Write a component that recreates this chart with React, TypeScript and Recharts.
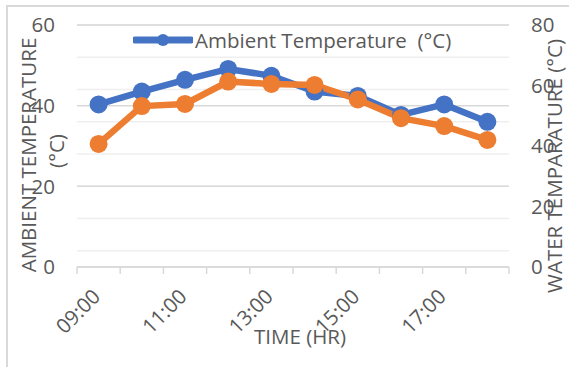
import React from 'react';
import { LineChart, Line, XAxis, YAxis, CartesianGrid, Legend } from 'recharts';

const CATEGORIES = ['09:00', '10:00', '11:00', '12:00', '13:00', '14:00', '15:00', '16:00', '17:00', '18:00'];
const AMBIENT = [40.3, 43.5, 46.4, 49.1, 47.4, 43.5, 42.4, 37.7, 40.3, 36.0];
const WATER = [40.7, 53.2, 53.9, 61.3, 60.5, 60.2, 55.4, 49.2, 46.6, 42.0];
const LEFT_TICKS = [0, 20, 40, 60];
const RIGHT_TICKS = [0, 20, 40, 60, 80];
const MINOR_GRID = [0, 4, 8, 12, 16, 20, 24, 28, 32, 36, 40, 44, 48, 52, 56, 60];
const MAJOR_GRID = [0, 20, 40, 60];
const SERIES_NAMES = { ambient: 'Ambient Temperature  (°C)', water: 'Water Temperature (°C)' };
const TITLES = {
  x: 'TIME (HR)',
  left1: 'AMBIENT TEMPERATURE',
  left2: '(°C)',
  right: 'WATER TEMPARATURE (°C)',
};

const data = CATEGORIES.map((c, i) => ({ time: c, ambient: AMBIENT[i], water: WATER[i] }));

const FONT = '"Open Sans", sans-serif';
const FS = 20.5;
const TEXT = '#595959';
const GRID_MAJOR = '#d9d9d9';
const GRID_MINOR = '#efefef';
const BLUE = '#4472C4';
const ORANGE = '#ED7D31';

const XTick = (props: any) => {
  const { x, y, payload, index } = props;
  const off = payload && payload.offset != null ? payload.offset : 0;
  const last = index === CATEGORIES.length - 1;
  const tx = x + 3;
  const ty = y + 31;
  return (
    <g>
      <line x1={x - off} x2={x - off} y1={y} y2={y + 7} stroke={GRID_MAJOR} strokeWidth={1.5} />
      {last && <line x1={x + off} x2={x + off} y1={y} y2={y + 7} stroke={GRID_MAJOR} strokeWidth={1.5} />}
      {index % 2 === 0 && (
        <text
          x={tx}
          y={ty}
          transform={`rotate(-45, ${tx}, ${ty})`}
          textAnchor="end"
          fill={TEXT}
          fontSize={FS}
          fontFamily={FONT}
        >
          {payload.value}
        </text>
      )}
    </g>
  );
};

const LeftTitle = (props: any) => {
  const vb = props.viewBox || { x: 0, y: 25, width: 77, height: 242 };
  const cy = vb.y + vb.height / 2 + 9;
  return (
    <g fill={TEXT} fontSize={FS} fontFamily={FONT}>
      <text x={27.5} y={cy} transform={`rotate(-90, 27.5, ${cy})`} textAnchor="middle" dominantBaseline="central">
        {TITLES.left1}
      </text>
      <text x={56} y={cy - 4} transform={`rotate(-90, 56, ${cy - 4})`} textAnchor="middle" dominantBaseline="central">
        {TITLES.left2}
      </text>
    </g>
  );
};

const RightTitle = (props: any) => {
  const vb = props.viewBox || { x: 509, y: 25, width: 60, height: 242 };
  const cx = 554;
  const cy = vb.y + vb.height / 2 + 20;
  return (
    <text
      x={cx}
      y={cy}
      transform={`rotate(-90, ${cx}, ${cy})`}
      textAnchor="middle"
      dominantBaseline="central"
      fill={TEXT}
      fontSize={FS}
      fontFamily={FONT}
    >
      {TITLES.right}
    </text>
  );
};

const XTitle = (props: any) => {
  const vb = props.viewBox || { x: 77, y: 267, width: 432, height: 100 };
  const cx = vb.x + vb.width / 2 + 7;
  return (
    <text x={cx} y={vb.y + 69} textAnchor="middle" dominantBaseline="central" fill={TEXT} fontSize={FS} fontFamily={FONT}>
      {TITLES.x}
    </text>
  );
};

const renderLegend = (props: any) => {
  const payload = (props.payload || []).filter((p: any) => p.dataKey === 'ambient');
  return (
    <div style={{ height: 0, overflow: 'visible' }}>
      {payload.map((p: any) => (
        <div key={p.dataKey} style={{ display: 'flex', alignItems: 'center', whiteSpace: 'nowrap' }}>
          <svg width={60} height={16} style={{ display: 'block' }}>
            <line x1={2} x2={58} y1={8} y2={8} stroke={p.color} strokeWidth={7} strokeLinecap="round" />
            <circle cx={30} cy={8} r={6} fill={p.color} />
          </svg>
          <span style={{ color: TEXT, fontSize: FS, fontFamily: FONT, marginLeft: 2, whiteSpace: 'pre', lineHeight: '16px' }}>{p.value}</span>
        </div>
      ))}
    </div>
  );
};

export default function App() {
  return (
    <div style={{ position: 'absolute', left: 0, top: 0, width: 569, height: 367, background: '#fff', overflow: 'hidden' }}>
      <div
        style={{
          position: 'absolute',
          left: 6,
          top: 5,
          width: 600,
          height: 360,
          borderTop: `2px solid ${GRID_MAJOR}`,
          borderLeft: `2px solid ${GRID_MAJOR}`,
        }}
      />
      <LineChart width={569} height={367} data={data} margin={{ top: 25, right: 0, bottom: 0, left: 0 }}>
        <CartesianGrid yAxisId="left" vertical={false} horizontalValues={MINOR_GRID} stroke={GRID_MINOR} strokeWidth={1.5} />
        <CartesianGrid yAxisId="left" vertical={false} horizontalValues={MAJOR_GRID} stroke={GRID_MAJOR} strokeWidth={1.5} />
        <XAxis
          dataKey="time"
          scale="band"
          height={100}
          interval={0}
          tickLine={false}
          tickSize={0}
          tickMargin={0}
          axisLine={{ stroke: GRID_MAJOR, strokeWidth: 1.5 }}
          tick={<XTick />}
          label={{ content: <XTitle /> }}
        />
        <YAxis
          yAxisId="left"
          orientation="left"
          width={77}
          domain={[0, 60]}
          ticks={LEFT_TICKS}
          axisLine={false}
          tickLine={false}
          tickSize={0}
          tickMargin={22}
          tick={{ fill: TEXT, fontSize: FS, fontFamily: FONT }}
          label={{ content: <LeftTitle /> }}
        />
        <YAxis
          yAxisId="right"
          orientation="right"
          width={60}
          domain={[0, 80]}
          ticks={RIGHT_TICKS}
          axisLine={false}
          tickLine={false}
          tickSize={0}
          tickMargin={22}
          tick={{ fill: TEXT, fontSize: FS, fontFamily: FONT, textAnchor: 'start' }}
          label={{ content: <RightTitle /> }}
        />
        <Legend
          verticalAlign="top"
          align="left"
          content={renderLegend}
          wrapperStyle={{ top: 32, left: 133, height: 0, width: 430 }}
        />
        <Line
          yAxisId="left"
          dataKey="ambient"
          name={SERIES_NAMES.ambient}
          stroke={BLUE}
          strokeWidth={6.5}
          dot={{ r: 9, fill: BLUE, stroke: BLUE, strokeWidth: 0 }}
          activeDot={false}
          isAnimationActive={false}
        />
        <Line
          yAxisId="right"
          dataKey="water"
          name={SERIES_NAMES.water}
          stroke={ORANGE}
          strokeWidth={6.5}
          dot={{ r: 9, fill: ORANGE, stroke: ORANGE, strokeWidth: 0 }}
          activeDot={false}
          isAnimationActive={false}
        />
      </LineChart>
    </div>
  );
}
